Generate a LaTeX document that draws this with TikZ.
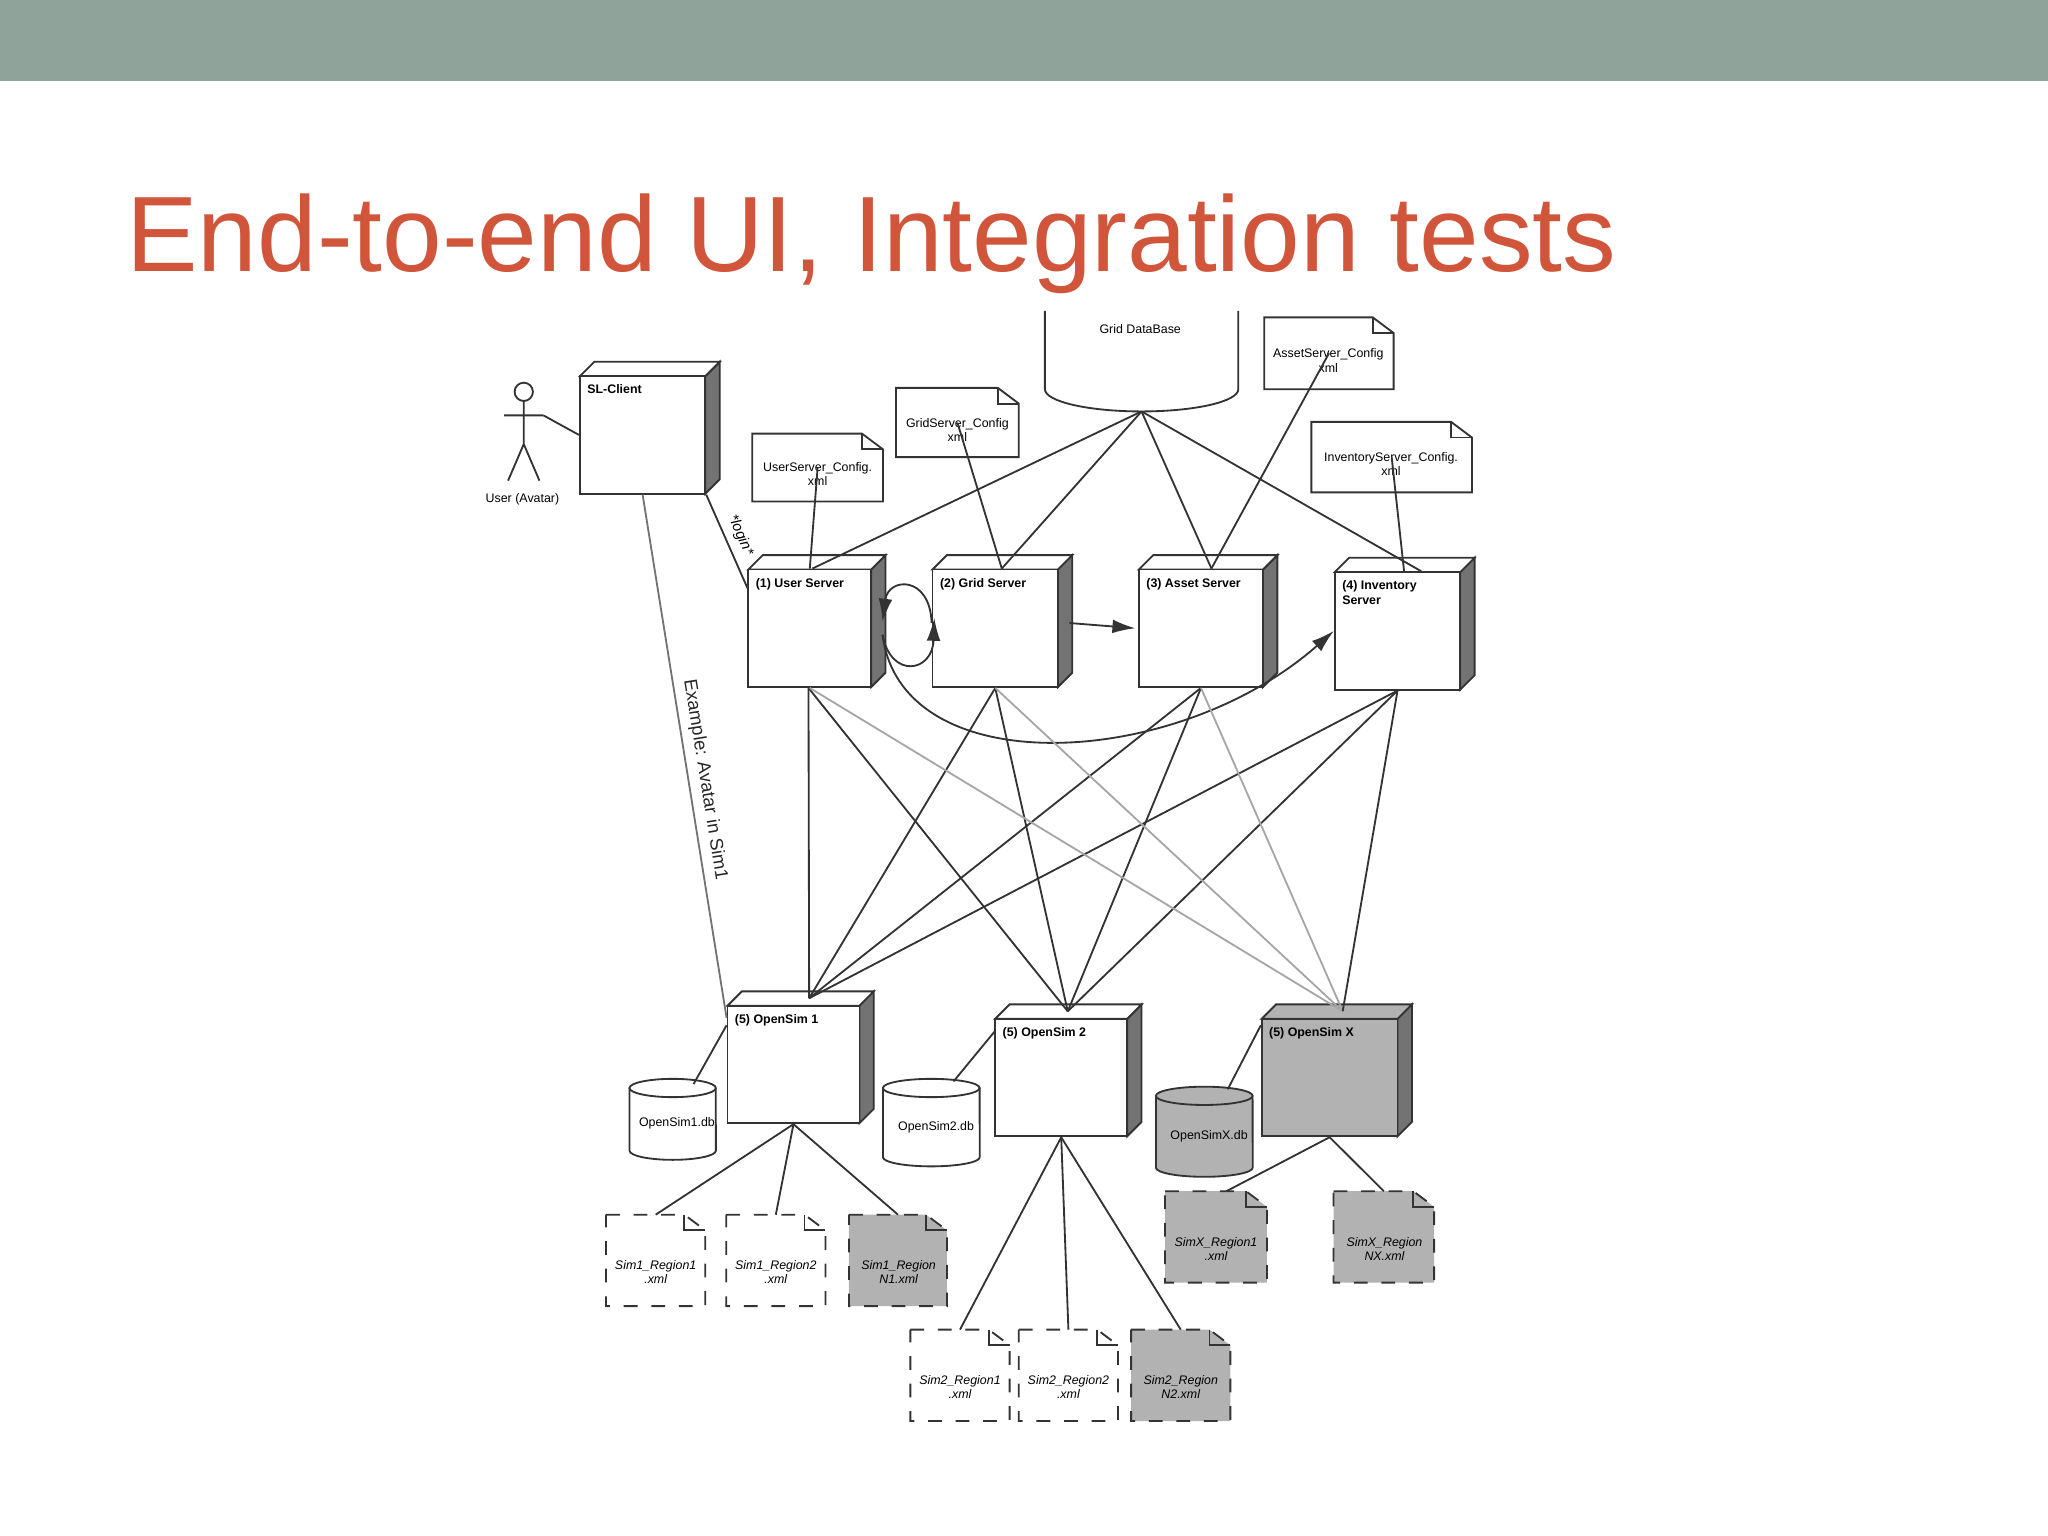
\documentclass[tikz,border=0pt]{standalone}
\usepackage{fontspec}
\setmainfont{Liberation Sans}
\setsansfont{Liberation Sans}
\usetikzlibrary{calc,arrows.meta}
\definecolor{band}{HTML}{8FA39A}
\definecolor{ttl}{HTML}{D0553A}
\tikzset{lbl/.style={font=\sffamily\fontsize{2.7}{3.1}\selectfont,align=center,inner sep=0},
 ilbl/.style={lbl,font=\sffamily\itshape\fontsize{2.7}{3.1}\selectfont},
 blbl/.style={font=\sffamily\bfseries\fontsize{2.7}{3.1}\selectfont,align=left,inner sep=0,anchor=north west},
 conn/.style={draw=black!80,line width=0.4pt},
 lconn/.style={draw=black!35,line width=0.4pt}}
\newcommand\tdbox[7]{%
 \fill[black!55,draw=black!80] (#4,#3)--($(#4,#3)+(11,-11)$)--($(#4,#5)+(11,-11)$)--(#4,#5)--cycle;
 \fill[#6,draw=black!80] (#2,#3)--($(#2,#3)+(11,-11)$)--($(#4,#3)+(11,-11)$)--(#4,#3)--cycle;
 \node[draw=black!80,fill=#6,inner sep=0,minimum width={(#4-#2)*0.01cm},minimum height={(#5-#3)*0.01cm}] (#1) at ($(#2,#3)!0.5!(#4,#5)$) {};
 \node[blbl] at ($(#2,#3)+(5,6)$) {#7};}
\newcommand\docf[7]{%
 \draw[fill=#6,draw=black!80,#7] (#2,#3)--($(#4,#3)+(-16,0)$)--($(#4,#3)+(0,12)$)--(#4,#5)--(#2,#5)--cycle;
 \draw[draw=black!80] ($(#4,#3)+(-16,0)$)--($(#4,#3)+(-16,12)$)--($(#4,#3)+(0,12)$);
 \coordinate (#1) at ($(#2,#3)!0.5!(#4,#5)$);}
\newcommand\cyl[7]{% name x1 y1 x2 y2 fill label
 \draw[fill=#6,draw=black!80] (#2,#3+7)--(#2,#5-7) arc[start angle=180,end angle=360,x radius={(#4-#2)*0.005cm},y radius=0.07cm]--(#4,#3+7);
 \draw[fill=#6,draw=black!80] ($(#2,#3+7)!0.5!(#4,#3+7)$) ellipse[x radius={(#4-#2)*0.005cm},y radius=0.07cm];
 \node[lbl] (#1) at ($(#2,#3)!0.55!(#4,#5)$) {#7};}
\begin{document}
\begin{tikzpicture}[x=0.01cm,y=-0.01cm]
\useasboundingbox (0,0) rectangle (1568,1176);
\fill[band] (0,0) rectangle (1568,62);
\node[anchor=base west,inner sep=0,text=ttl] (title) at (96,208) {\resizebox{11.4cm}{!}{End-to-end UI, Integration tests}};
% Grid DB
\draw[draw=black!80] (800,238)--(800,298) arc[start angle=180,end angle=360,x radius=0.74cm,y radius=0.17cm]--(948,238);
\node[lbl] (gdb) at (873,252) {Grid DataBase};
\coordinate (gdbb) at (874,315);
% actor
\draw[black!80] (401,300) circle[radius=0.07cm];
\draw[black!80] (401,307)--(401,340) (386,318)--(416,318) (401,340)--(389,368) (401,340)--(413,368);
\node[lbl] (actor) at (400,382) {User (Avatar)};
\coordinate (hand) at (416,318);
% boxes
\tdbox{sl}{444}{288}{540}{378}{white}{SL-Client}
\tdbox{us}{573}{436}{667}{526}{white}{(1) User Server}
\tdbox{gs}{714}{436}{810}{526}{white}{(2) Grid Server}
\tdbox{as}{872}{436}{967}{526}{white}{(3) Asset Server}
\tdbox{is}{1022}{438}{1118}{528}{white}{(4) Inventory\\Server}
\tdbox{o1}{557}{770}{658}{860}{white}{(5) OpenSim 1}
\tdbox{o2}{762}{780}{863}{870}{white}{(5) OpenSim 2}
\tdbox{ox}{966}{780}{1070}{870}{black!30}{(5) OpenSim X}
% config docs
\docf{usc}{576}{332}{676}{384}{white}{}
\node[lbl] at (626,363) {UserServer\_Config.\\xml};
\docf{gsc}{686}{297}{780}{350}{white}{}
\node[lbl] at (733,329) {GridServer\_Config\\xml};
\docf{asc}{968}{243}{1067}{298}{white}{}
\node[lbl] at (1017,276) {AssetServer\_Config\\xml};
\docf{isc}{1004}{323}{1127}{377}{white}{}
\node[lbl] at (1065,355) {InventoryServer\_Config.\\xml};
% cylinders
\cyl{db1}{482}{826}{548}{888}{white}{OpenSim1.db}
\cyl{db2}{676}{826}{750}{893}{white}{OpenSim2.db}
\cyl{dbx}{885}{832}{959}{901}{black!30}{OpenSimX.db}
% region docs
\docf{r11}{464}{930}{540}{1000}{white}{dashed}
\node[ilbl] at (502,974) {Sim1\_Region1\\.xml};
\docf{r12}{556}{930}{632}{1000}{white}{dashed}
\node[ilbl] at (594,974) {Sim1\_Region2\\.xml};
\docf{r1n}{650}{930}{725}{1000}{black!30}{dashed}
\node[ilbl] at (688,974) {Sim1\_Region\\N1.xml};
\docf{r21}{697}{1018}{773}{1088}{white}{dashed}
\node[ilbl] at (735,1062) {Sim2\_Region1\\.xml};
\docf{r22}{780}{1018}{856}{1088}{white}{dashed}
\node[ilbl] at (818,1062) {Sim2\_Region2\\.xml};
\docf{r2n}{866}{1018}{942}{1088}{black!30}{dashed}
\node[ilbl] at (904,1062) {Sim2\_Region\\N2.xml};
\docf{rx1}{892}{912}{970}{982}{black!30}{dashed}
\node[ilbl] at (931,956) {SimX\_Region1\\.xml};
\docf{rxn}{1021}{912}{1098}{982}{black!30}{dashed}
\node[ilbl] at (1060,956) {SimX\_Region\\NX.xml};
% connectors top
\draw[conn] (hand)--(sl.west);
\draw[lconn,draw=black!55] (sl.south)--($(o1.north west)+(0,10)$) node[pos=0.55,sloped,above,lbl,font=\sffamily\fontsize{4}{5}\selectfont,text=black!85,inner sep=1.5pt] {Example: Avatar in Sim1};
\draw[conn] (sl.south east)--($(us.north west)+(0,15)$) node[midway,sloped,above,lbl,font=\sffamily\itshape\fontsize{3.2}{4}\selectfont,inner sep=1.5pt] {*login*};
\draw[conn] (gdbb)--($(us.north)+(2,0)$);
\draw[conn] (gdbb)--($(gs.north)+(5,0)$);
\draw[conn] (gdbb)--($(as.north)+(8,0)$);
\draw[conn] (gdbb)--($(is.north)+(18,0)$);
\draw[conn] (usc.south)--(us.north);
\draw[conn] (gsc.south)--($(gs.north)+(5,0)$);
\draw[conn] (asc.south)--($(as.north)+(8,0)$);
\draw[conn] (isc.south)--($(is.north)+(5,0)$);
\draw[conn,-{Latex[length=5pt,width=3pt]}] ($(gs.east)+(8,-4)$)--($(as.west)+(-2,0)$);
\draw[conn,-{Latex[length=5pt,width=3pt]}] ($(gs.west)+(0,-4)$) .. controls (712,440) and (680,442) .. ($(us.east)+(8,-5)$);
\draw[conn,-{Latex[length=5pt,width=3pt]}] ($(us.east)+(8,5)$) .. controls (682,520) and (714,515) .. ($(gs.west)+(2,-8)$);
\draw[conn,-{Latex[length=5pt,width=3pt]}] ($(us.east)+(8,5)$) .. controls (690,600) and (900,590) .. (is.west);
% servers to opensims
\foreach \s/\d in {us/-1,gs/0,as/0,is/0}{
 \draw[conn] ($(\s.south)+(\d,0)$)--($(o1.north)+(12,-5)$);
 \draw[conn] ($(\s.south)+(\d,0)$)--($(o2.north)+(5,-5)$);}
\draw[lconn] (us.south)--($(ox.north)+(10,-5)$);
\draw[lconn] (gs.south)--($(ox.north)+(10,-5)$);
\draw[lconn] (as.south)--($(ox.north)+(10,-5)$);
\draw[conn] (is.south)--($(ox.north)+(10,-5)$);
% opensims to dbs and regions
\draw[conn] ($(o1.west)+(0,-30)$)--(531,830);
\draw[conn] ($(o2.west)+(0,-35)$)--(730,828);
\draw[conn] ($(ox.west)+(0,-40)$)--(940,834);
\foreach \r in {r11,r12,r1n}{\draw[conn] (o1.south)--($(\r)+(0,-35)$);}
\foreach \r in {r21,r22,r2n}{\draw[conn] (o2.south)--($(\r)+(0,-35)$);}
\draw[conn] (ox.south)--($(rx1)+(8,-35)$);
\draw[conn] (ox.south)--($(rxn)+(0,-35)$);
\end{tikzpicture}
\end{document}
